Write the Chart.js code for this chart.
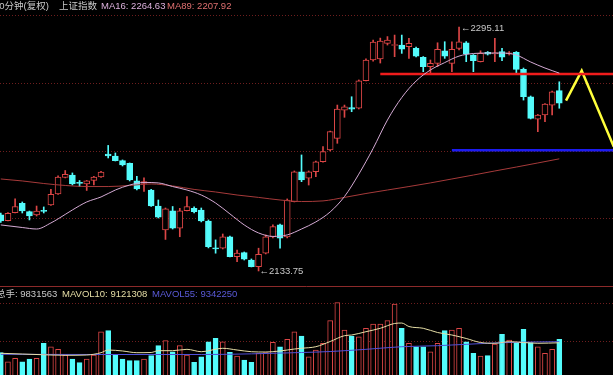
<!DOCTYPE html>
<html>
<head>
<meta charset="utf-8">
<script src="https://cdn.jsdelivr.net/npm/chart.js@4.4.1/dist/chart.umd.min.js"></script>
<style>
  html, body { margin: 0; padding: 0; background: #000; overflow: hidden; }
  #wrap { position: relative; width: 613px; height: 375px; overflow: hidden; background: #000; }
  #priceChart { position: absolute; left: 0; top: 0; }
  #volChart { position: absolute; left: 0; top: 286px; }
  .txt { position: absolute; font: 9.5px "Liberation Sans", "Noto Sans CJK SC", sans-serif; line-height: 12px; white-space: nowrap; }
</style>
</head>
<body>
<div id="wrap">
  <canvas id="priceChart" width="613" height="286"></canvas>
  <canvas id="volChart" width="613" height="89"></canvas>
  <span class="txt" style="left:-6px;top:0;color:#c8c8c8">60分钟(复权)</span>
  <span class="txt" style="left:59px;top:0;color:#c8c8c8">上证指数</span>
  <span class="txt" style="left:101px;top:0;color:#dcb0dc">MA16: 2264.63</span>
  <span class="txt" style="left:167px;top:0;color:#e07070">MA89: 2207.92</span>
  <span class="txt" style="left:-4px;top:288px;color:#c8c8c8">总手: 9831563</span>
  <span class="txt" style="left:62px;top:288px;color:#e6dea6">MAVOL10: 9121308</span>
  <span class="txt" style="left:152px;top:288px;color:#5a5ad8">MAVOL55: 9342250</span>
</div>
<script>
const RED = "#dc4646";
const CYAN = "#54fcfc";

const xMin = -0.11;
const xMax = 85.5;
const priceMin = 2123.8;
const priceMax = 2313.0;
const volMin = 2550000;
const volMax = 20706000;

const opens = [2170.8, 2167.0, 2172.3, 2178.5, 2173.0, 2170.8, 2173.8, 2177.4, 2184.7, 2195.6,
  2197.2, 2192.3, 2191.3, 2193.6, 2195.9, 2211.1, 2209.8, 2206.7, 2204.9, 2193.3,
  2191.6, 2187.3, 2176.7, 2160.9, 2173.6, 2162.0, 2173.6, 2175.2, 2174.1, 2166.8,
  2149.0, 2148.8, 2156.4, 2143.2, 2145.9, 2141.0, 2136.6, 2145.5, 2156.2, 2164.2,
  2156.2, 2179.6, 2199.4, 2195.1, 2199.4, 2206.0, 2213.8, 2221.5, 2240.2, 2241.8,
  2241.4, 2259.6, 2273.3, 2274.0, 2284.3, 2282.9, 2283.2, 2282.1, 2281.0, 2275.1,
  2268.9, 2271.1, 2279.4, 2271.1, 2281.0, 2284.7, 2276.6, 2272.2, 2278.4, 2277.4,
  2278.8, 2277.4, 2278.4, 2267.1, 2249.0, 2234.1, 2236.9, 2243.5, 2253.0];
const highs = [2172.1, 2172.4, 2181.4, 2179.4, 2173.4, 2176.7, 2176.1, 2187.7, 2196.6, 2200.2,
  2198.6, 2193.6, 2193.6, 2196.3, 2199.6, 2216.8, 2211.8, 2207.2, 2205.2, 2196.3,
  2195.3, 2187.7, 2180.7, 2175.4, 2176.4, 2175.2, 2182.9, 2176.1, 2175.4, 2167.5,
  2154.3, 2158.2, 2156.9, 2147.6, 2146.3, 2141.7, 2148.8, 2157.6, 2164.2, 2164.8,
  2181.4, 2199.9, 2210.5, 2199.9, 2206.5, 2216.0, 2226.3, 2243.5, 2243.5, 2249.0,
  2260.1, 2274.0, 2286.5, 2287.8, 2288.8, 2289.8, 2289.8, 2287.6, 2281.9, 2275.6,
  2273.3, 2284.7, 2285.4, 2285.4, 2295.11, 2285.5, 2276.9, 2279.4, 2278.9, 2287.6,
  2281.0, 2278.9, 2278.9, 2268.0, 2249.5, 2237.3, 2244.5, 2252.8, 2258.9];
const lows = [2165.8, 2166.8, 2172.1, 2172.1, 2167.5, 2170.1, 2172.1, 2177.1, 2184.4, 2195.3,
  2190.6, 2189.6, 2187.0, 2190.6, 2195.6, 2208.5, 2206.5, 2203.2, 2193.3, 2187.3,
  2186.3, 2176.4, 2168.8, 2154.6, 2161.5, 2156.4, 2173.4, 2172.1, 2166.2, 2149.0,
  2145.5, 2148.3, 2143.0, 2139.9, 2141.0, 2136.4, 2133.75, 2145.0, 2155.6, 2148.8,
  2155.6, 2179.4, 2192.8, 2190.6, 2196.1, 2205.8, 2213.1, 2218.2, 2235.4, 2239.1,
  2240.9, 2259.4, 2272.6, 2271.3, 2283.2, 2275.5, 2277.7, 2274.4, 2275.3, 2265.6,
  2264.9, 2268.9, 2274.4, 2265.6, 2279.9, 2272.2, 2265.6, 2272.0, 2276.6, 2272.2,
  2272.8, 2276.6, 2264.9, 2246.8, 2234.3, 2225.9, 2232.5, 2236.9, 2241.4];
const closes = [2166.8, 2171.8, 2176.4, 2173.4, 2170.1, 2173.4, 2173.1, 2184.4, 2195.9, 2197.6,
  2191.3, 2191.6, 2193.3, 2195.9, 2199.2, 2209.8, 2206.7, 2203.9, 2193.9, 2188.0,
  2192.9, 2176.7, 2169.3, 2174.8, 2162.0, 2173.6, 2176.3, 2173.0, 2166.8, 2149.8,
  2148.4, 2156.4, 2143.2, 2145.5, 2141.5, 2136.6, 2144.8, 2156.4, 2163.1, 2155.4,
  2180.7, 2199.4, 2193.9, 2199.4, 2206.0, 2212.7, 2225.9, 2240.9, 2242.4, 2240.7,
  2259.6, 2273.3, 2285.2, 2285.9, 2286.5, 2283.5, 2280.4, 2284.3, 2275.9, 2268.9,
  2271.1, 2280.4, 2275.9, 2280.4, 2285.4, 2277.3, 2272.8, 2277.7, 2277.1, 2278.1,
  2275.1, 2278.1, 2267.1, 2249.0, 2234.7, 2236.9, 2244.2, 2252.3, 2244.7];
const volumes = [7100000, 5260000, 5960000, 5260000, 5810000, 5960000, 9020000, 8320000, 7790000, 6630000,
  5810000, 5060000, 5810000, 6630000, 11380000, 11590000, 6630000, 5810000, 5470000, 5470000,
  5810000, 6490000, 8530000, 9550000, 7300000, 8530000, 6630000, 5140000, 6280000, 9340000,
  10040000, 9340000, 7180000, 6430000, 5610000, 5140000, 6980000, 7100000, 9220000, 8320000,
  9830000, 11380000, 10510000, 6280000, 7650000, 9020000, 13630000, 17300000, 11730000, 10510000,
  10360000, 12080000, 12950000, 12950000, 13630000, 17030000, 12080000, 9020000, 8320000, 8320000,
  7300000, 9020000, 11590000, 11730000, 12080000, 9340000, 6980000, 6430000, 6490000, 8870000,
  10850000, 9690000, 9140000, 11870000, 9140000, 8320000, 6980000, 7790000, 9831563];

const ma16Idx = [0, 3, 5, 7, 8, 10, 12, 14, 16, 18, 20, 22, 24, 26, 28, 30, 32, 34, 36, 38,
  40, 42, 44, 46, 48, 50, 52, 54, 56, 58, 60, 62, 64, 66, 68, 70, 72, 74, 76, 78];
const ma16Val = [2164.2, 2162.5, 2161.5, 2165.5, 2168.2, 2174.1, 2179.4, 2182.7, 2187.3, 2190.6,
  2192.3, 2192.0, 2189.6, 2187.3, 2184.0, 2178.7, 2171.5, 2164.2, 2158.9, 2156.6,
  2157.6, 2161.5, 2166.2, 2172.8, 2183.0, 2197.8, 2214.8, 2233.6, 2248.5, 2259.4,
  2266.7, 2271.6, 2275.9, 2277.6, 2277.9, 2277.9, 2276.6, 2272.0, 2268.0, 2264.63];
const ma89Idx = [0, 3, 6, 9, 12, 15, 18, 21, 24, 27, 30, 33, 36, 39, 42, 45, 48, 51, 54, 57,
  60, 63, 66, 69, 72, 75, 78];
const ma89Val = [2194.6, 2193.3, 2191.6, 2190.3, 2189.6, 2189.6, 2190.3, 2191.3, 2190.0, 2187.7,
  2186.0, 2184.0, 2182.4, 2180.7, 2179.7, 2180.1, 2182.4, 2185.0, 2187.3, 2189.6,
  2192.0, 2194.6, 2197.2, 2199.9, 2202.5, 2205.2, 2207.92];

const mavol10Idx = [0, 3, 7, 9, 12, 14, 15, 17, 19, 21, 22, 24, 26, 28, 31, 33, 35, 37, 39, 41,
  42, 44, 46, 48, 49, 51, 53, 55, 56, 57, 59, 61, 63, 65, 67, 69, 71, 73, 75, 78];
const mavol10Val = [6980000, 6830000, 6630000, 6570000, 6630000, 7100000, 7650000, 7450000, 7100000, 7140000,
  7510000, 7510000, 7790000, 7300000, 8000000, 7650000, 7300000, 7240000, 7450000, 7850000,
  8000000, 8320000, 9380000, 10570000, 10710000, 11380000, 12080000, 13060000, 13150000, 12440000,
  12080000, 11220000, 10710000, 10000000, 9180000, 9020000, 9340000, 9180000, 9020000, 9121308];
const mavol55Idx = [0, 14, 28, 42, 46, 51, 56, 61, 65, 70, 74, 78];
const mavol55Val = [6770000, 6730000, 6730000, 7140000, 7340000, 7790000, 8320000, 8530000, 8810000, 9140000,
  9280000, 9342250];

const redLevel = 2264.0;
const redFrom = 53;
const blueLevel = 2213.6;
const blueFrom = 63;
const yellowIdx = [78.94, 81.13, 85.6];
const yellowVal = [2246.4, 2266.2, 2216.0];

const priceGrid = [2303.4, 2258.4, 2213.4, 2168.5];
const volGrid = [17300000, 9550000];


const up = closes.map((c, i) => c >= opens[i]);

function pts(xs, ys) {
  return xs.map((x, i) => ({ x: x, y: ys[i] }));
}

function lineSet(data, color, width, smooth) {
  return {
    type: "line",
    data: data,
    borderColor: color,
    borderWidth: width,
    pointRadius: 0,
    tension: 0,
    cubicInterpolationMode: smooth ? "monotone" : "default",
    order: 0
  };
}

function gridPlugin(values, solidTop) {
  return {
    id: "gridDots",
    beforeDatasetsDraw(chart) {
      const ctx = chart.ctx;
      const area = chart.chartArea;
      const ys = chart.scales.y;
      ctx.save();
      ctx.lineWidth = 1;
      ctx.strokeStyle = "#6e1e1e";
      ctx.setLineDash([1, 2]);
      values.forEach(v => {
        const py = Math.round(ys.getPixelForValue(v)) + 0.5;
        ctx.beginPath();
        ctx.moveTo(area.left, py);
        ctx.lineTo(area.right, py);
        ctx.stroke();
      });
      if (solidTop) {
        ctx.setLineDash([]);
        ctx.strokeStyle = "#8c2a2a";
        ctx.beginPath();
        ctx.moveTo(area.left, 0.5);
        ctx.lineTo(area.right, 0.5);
        ctx.stroke();
      }
      ctx.restore();
    }
  };
}

const extremeLabels = {
  id: "extremeLabels",
  afterDatasetsDraw(chart) {
    const ctx = chart.ctx;
    const xs = chart.scales.x;
    const ys = chart.scales.y;
    const hi = highs.indexOf(Math.max(...highs));
    const lo = lows.indexOf(Math.min(...lows));
    ctx.save();
    ctx.fillStyle = "#c8c8c8";
    ctx.font = '9.5px "Liberation Sans", "DejaVu Sans", sans-serif';
    ctx.textBaseline = "middle";
    ctx.fillText("←" + highs[hi].toFixed(2), xs.getPixelForValue(hi) + 2, ys.getPixelForValue(highs[hi]) + 1.5);
    ctx.fillText("←" + lows[lo].toFixed(2), xs.getPixelForValue(lo) + 1, ys.getPixelForValue(lows[lo]));
    ctx.restore();
  }
};

const baseOptions = {
  responsive: false,
  animation: false,
  events: [],
  layout: { padding: 0 },
  plugins: { legend: { display: false }, tooltip: { enabled: false } }
};


new Chart(document.getElementById("priceChart"), {
  type: "bar",
  data: {
    datasets: [
      lineSet(pts(ma16Idx, ma16Val), "#d4aad4", 1, true),
      lineSet(pts(ma89Idx, ma89Val), "#a63a3a", 1, true),
      lineSet([{ x: redFrom, y: redLevel }, { x: xMax + 1, y: redLevel }], "#f01c1c", 2.5, false),
      lineSet([{ x: blueFrom, y: blueLevel }, { x: xMax + 1, y: blueLevel }], "#1c1cf0", 2.5, false),
      lineSet(pts(yellowIdx, yellowVal), "#ffff3c", 2.5, false),
      {
        data: opens.map((o, i) => ({ x: i, y: [o, closes[i]] })),
        backgroundColor: up.map(u => u ? "#000" : CYAN),
        borderColor: up.map(u => u ? RED : CYAN),
        borderWidth: 1,
        borderSkipped: false,
        minBarLength: 1,
        barThickness: 6,
        grouped: false,
        order: 1
      },
      {
        data: lows.map((l, i) => ({ x: i, y: [l, highs[i]] })),
        backgroundColor: up.map(u => u ? RED : CYAN),
        barThickness: 1,
        grouped: false,
        order: 2
      }
    ]
  },
  options: Object.assign({}, baseOptions, {
    scales: {
      x: { type: "linear", min: xMin, max: xMax, offset: false, display: false },
      y: { min: priceMin, max: priceMax, display: false }
    }
  }),
  plugins: [gridPlugin(priceGrid, false), extremeLabels]
});


new Chart(document.getElementById("volChart"), {
  type: "bar",
  data: {
    datasets: [
      lineSet(pts(mavol10Idx, mavol10Val), "#e6dea6", 1, true),
      lineSet(pts(mavol55Idx, mavol55Val), "#5050d8", 1, true),
      {
        data: volumes.map((v, i) => ({ x: i, y: [0, v] })),
        backgroundColor: up.map(u => u ? "#000" : CYAN),
        borderColor: up.map(u => u ? RED : CYAN),
        borderWidth: 1,
        borderSkipped: false,
        barThickness: 5,
        grouped: false,
        order: 1
      }
    ]
  },
  options: Object.assign({}, baseOptions, {
    scales: {
      x: { type: "linear", min: xMin, max: xMax, offset: false, display: false },
      y: { min: volMin, max: volMax, display: false }
    }
  }),
  plugins: [gridPlugin(volGrid, true)]
});
</script>
</body>
</html>
